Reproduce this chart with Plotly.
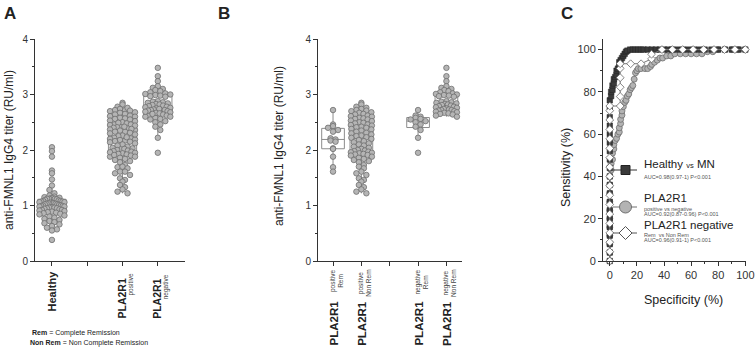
import plotly.graph_objects as go

W, H = 755, 350

# ---------------- data ----------------
healthy = [2.05, 1.98, 1.88, 1.63, 1.58, 1.47, 1.36, 1.28, 1.22, 1.18,
           1.16, 1.15, 1.14, 1.13, 1.13, 1.12, 1.12, 1.12, 1.11, 1.10,
           1.09, 1.08, 1.08, 1.07, 1.07, 1.06, 1.06, 1.05, 1.05, 1.04,
           1.04, 1.03, 1.03, 1.02, 1.02, 1.01, 1.00, 1.00, 0.99, 0.99,
           0.98, 0.98, 0.97, 0.96, 0.96, 0.95, 0.95, 0.94, 0.93, 0.92,
           0.92, 0.91, 0.90, 0.89, 0.88, 0.87, 0.86, 0.85, 0.84, 0.82,
           0.80, 0.78, 0.76, 0.74, 0.72, 0.70, 0.68, 0.66, 0.63, 0.60,
           0.57, 0.55, 0.38]

pos_rem = [2.72, 2.46, 2.43, 2.40, 2.36, 2.33, 2.21, 2.19, 2.17, 2.15,
           2.03, 2.02, 1.88, 1.69, 1.61]

pos_nonrem = [2.85, 2.82, 2.78, 2.76, 2.74, 2.72, 2.71, 2.70, 2.68, 2.67,
              2.65, 2.64, 2.62, 2.61, 2.60, 2.58, 2.57, 2.56, 2.55, 2.53,
              2.52, 2.50, 2.49, 2.48, 2.46, 2.45, 2.44, 2.42, 2.41, 2.40,
              2.38, 2.37, 2.35, 2.33, 2.31, 2.30, 2.28, 2.26, 2.25, 2.23,
              2.22, 2.20, 2.18, 2.16, 2.14, 2.12, 2.10, 2.08, 2.06, 2.04,
              2.02, 2.00, 1.99, 1.98, 1.97, 1.96, 1.95, 1.94, 1.93, 1.92,
              1.91, 1.90, 1.88, 1.86, 1.84, 1.82, 1.80, 1.78, 1.73, 1.70,
              1.67, 1.61, 1.58, 1.55, 1.49, 1.46, 1.43, 1.37, 1.33, 1.29,
              1.25, 1.22]

neg_rem = [2.72, 2.62, 2.60, 2.58, 2.56, 2.55, 2.52, 2.50, 2.46, 2.42,
           2.36, 2.22, 1.95]

neg_nonrem = [3.48, 3.33, 3.24, 3.15, 3.12, 3.10, 3.08, 3.06, 3.04, 3.02,
              3.01, 3.00, 2.99, 2.98, 2.97, 2.96, 2.88, 2.87, 2.86, 2.85,
              2.84, 2.83, 2.82, 2.81, 2.80, 2.79, 2.78, 2.77, 2.76, 2.75,
              2.74, 2.73, 2.72, 2.72, 2.71, 2.70, 2.69, 2.68, 2.67, 2.66,
              2.65, 2.64, 2.62, 2.60]

pla2r1_pos = pos_rem + pos_nonrem
pla2r1_neg = neg_rem + neg_nonrem

a_positions = [1, 3, 4]
a_groups = [healthy, pla2r1_pos, pla2r1_neg]
b_positions = [1, 2, 4, 5]
b_groups = [pos_rem, pos_nonrem, neg_rem, neg_nonrem]

# ROC curves (x = specificity axis, y = sensitivity), in %
roc_hm_x = [0, 0, 0, 0, 0, 0, 0, 0, 0, 0, 0, 0, 0, 0, 0, 0, 0, 0, 0, 0,
            1, 1, 2, 2, 3, 3, 4, 5, 5, 6, 7, 7, 8, 9, 10, 11, 12, 13,
            15, 17, 19, 21, 23, 25, 28, 31, 34, 37, 40, 43, 46, 50, 54,
            58, 62, 66, 70, 75, 80, 85, 90, 95, 100]
roc_hm_y = [0, 4, 8, 12, 16, 20, 24, 28, 32, 36, 40, 44, 48, 52, 56, 60, 64, 68, 72, 76,
            78, 80, 81, 83, 84, 86, 87, 88, 90, 91, 92, 94, 95, 96, 97, 98, 99, 99.5,
            100, 100, 100, 100, 100, 100, 100, 100, 100, 100, 100, 100, 100, 100, 100,
            100, 100, 100, 100, 100, 100, 100, 100, 100, 100]

roc_pn_x = [0, 0, 0, 0, 0, 0, 0, 0, 0, 0, 0, 1, 1, 2, 2, 3, 3, 4, 5, 6,
            7, 7, 8, 8, 9, 9, 10, 11, 12, 13, 14, 15, 16, 17, 18, 19, 20, 21,
            23, 26, 28, 30, 31, 33, 35, 37, 39, 42, 45, 48, 52, 56, 60, 64,
            68, 72, 76, 80, 85, 90, 95, 100]
roc_pn_y = [0, 4, 8, 12, 16, 20, 24, 28, 32, 36, 40, 43, 46, 48, 51, 53, 55, 57, 58, 60,
            61, 63, 65, 67, 69, 71, 73, 75, 76, 78, 79, 81, 82, 83, 86, 89, 90, 91,
            91, 91, 91, 92, 93, 94, 95, 96, 96, 97, 97, 98, 98, 98, 98, 98,
            98, 99, 99, 100, 100, 100, 100, 100]

roc_nr_x = [0, 0, 0, 0, 0, 0, 0, 0, 0, 0, 0, 0, 0, 0, 0, 0, 0, 0,
            7.7, 7.7, 7.7, 7.7, 7.7, 7.7, 15.4, 23.1, 30.8, 30.8,
            38.5, 46.2, 53.8, 61.5, 69.2, 76.9, 84.6, 92.3, 100]
roc_nr_y = [0, 4.4, 8.9, 13.3, 17.8, 22.2, 26.7, 31.1, 35.6, 40, 44.4, 48.9, 53.3,
            57.8, 62.2, 66.7, 71.1, 73.3,
            73.3, 77.8, 82.2, 86.7, 91.1, 93.3, 93.3, 93.3, 95.6, 97.8,
            100, 100, 100, 100, 100, 100, 100, 100, 100]

# ---------------- geometry (pixels) ----------------
Y_BOT, Y_TOP = 261, 39
A_L, A_R, A_RANGE = 35, 185, [0.52, 4.77]
B_L, B_R, B_RANGE = 318, 462, [0.47, 5.55]
C_L, C_R, C_RANGE = 603, 746, [-5, 100.5]


def px(x):
    return x / W


def py(y):
    return 1 - y / H


FONT = "Liberation Sans, Arial, sans-serif"
DOT_FILL = "#b5b5b5"
DOT_LINE = "#6e6e6e"
BOX_LINE = "#8c8c8c"


def swarm(vals, ppy, ppx, binh=4.5, step=5.0, half=12.0):
    """Deterministic beeswarm offsets (chevron rows, highest in centre)."""
    bins = {}
    for i, v in enumerate(vals):
        bins.setdefault(int(v * ppy // binh), []).append(i)
    off = [0.0] * len(vals)
    for idx in bins.values():
        n = len(idx)
        if n == 1:
            continue
        s = min(step, 2 * half / (n - 1))
        slots = [(j - (n - 1) / 2) * s for j in range(n)]
        slots.sort(key=lambda t: (abs(t), t))
        idx_sorted = sorted(idx, key=lambda i: -vals[i])
        for k, i in enumerate(idx_sorted):
            off[i] = slots[k] / ppx
    return off


fig = go.Figure()

ppy = (Y_BOT - Y_TOP) / 4.0


def add_panel(positions, groups, xa, ya, ppx, half):
    for p, g in zip(positions, groups):
        fig.add_trace(go.Box(
            x=[p] * len(g), y=g, xaxis=xa, yaxis=ya, width=0.8,
            boxpoints="outliers", marker=dict(opacity=0, size=1),
            fillcolor="rgba(0,0,0,0)", line=dict(color=BOX_LINE, width=1),
            whiskerwidth=0, showlegend=False, hoverinfo="skip"))
    for p, g in zip(positions, groups):
        off = swarm(g, ppy, ppx, half=half)
        fig.add_trace(go.Scatter(
            x=[p + o for o in off], y=g, xaxis=xa, yaxis=ya, mode="markers",
            marker=dict(size=5.5, color=DOT_FILL, line=dict(color=DOT_LINE, width=0.8)),
            showlegend=False, hoverinfo="skip", cliponaxis=False))


ppx_a = (A_R - A_L) / (A_RANGE[1] - A_RANGE[0])
ppx_b = (B_R - B_L) / (B_RANGE[1] - B_RANGE[0])
add_panel(a_positions, a_groups, "x", "y", ppx_a, 12.5)
add_panel(b_positions, b_groups, "x2", "y2", ppx_b, 10.5)

# ROC curves
fig.add_trace(go.Scatter(x=roc_pn_x, y=roc_pn_y, xaxis="x3", yaxis="y3",
                         mode="lines+markers", line=dict(color="#6e6e6e", width=1),
                         marker=dict(symbol="circle", size=6, color="#b3b3b3",
                                     line=dict(color="#6e6e6e", width=0.8)),
                         showlegend=False, hoverinfo="skip", cliponaxis=False))
fig.add_trace(go.Scatter(x=roc_hm_x, y=roc_hm_y, xaxis="x3", yaxis="y3",
                         mode="lines+markers", line=dict(color="#333333", width=1),
                         marker=dict(symbol="square", size=5.5, color="#3a3a3a",
                                     line=dict(color="#222222", width=0.5)),
                         showlegend=False, hoverinfo="skip", cliponaxis=False))
fig.add_trace(go.Scatter(x=roc_nr_x, y=roc_nr_y, xaxis="x3", yaxis="y3",
                         mode="lines+markers", line=dict(color="#777777", width=1),
                         marker=dict(symbol="diamond", size=6, color="white",
                                     line=dict(color="#666666", width=0.8)),
                         showlegend=False, hoverinfo="skip", cliponaxis=False))

# legend glyphs in panel C (overlay pixel axis)
leg = [(170, "square", 9, "#3a3a3a", "#222222", "#333333"),
       (207, "circle", 12, "#b3b3b3", "#6e6e6e", "#6e6e6e"),
       (233, "diamond", 10, "white", "#555555", "#555555")]
for yy, sym, sz, fc, lc, linec in leg:
    fig.add_trace(go.Scatter(x=[613, 637], y=[yy, yy], xaxis="x4", yaxis="y4",
                             mode="lines", line=dict(color=linec, width=1),
                             showlegend=False, hoverinfo="skip"))
    fig.add_trace(go.Scatter(x=[625.5], y=[yy], xaxis="x4", yaxis="y4", mode="markers",
                             marker=dict(symbol=sym, size=sz, color=fc, line=dict(color=lc, width=1)),
                             showlegend=False, hoverinfo="skip"))

axis_common = dict(showline=True, linecolor="#333333", linewidth=1, ticks="outside",
                   ticklen=4, tickwidth=1, tickcolor="#333333", showgrid=False,
                   zeroline=False, fixedrange=True, ticklabeloverflow="allow",
                   automargin=False,
                   tickfont=dict(family=FONT, size=10, color="#333333"))
c_font = dict(family=FONT, size=11, color="#333333")

ydom = [py(Y_BOT), py(Y_TOP)]
fig.update_layout(
    width=W, height=H, autosize=False,
    margin=dict(l=0, r=0, t=0, b=0, pad=0, autoexpand=False),
    paper_bgcolor="white", plot_bgcolor="rgba(0,0,0,0)", boxmode="overlay",
    showlegend=False,
    font=dict(family=FONT, color="#222222"),
    xaxis=dict(domain=[px(A_L), px(A_R)], range=A_RANGE, anchor="y",
               tickvals=[1, 2, 3, 4], ticktext=["", "", "", ""], **axis_common),
    yaxis=dict(domain=ydom, range=[0, 4], anchor="x", tickvals=[0, 1, 2, 3, 4],
               minor=dict(ticks="outside", ticklen=2, dtick=0.5, tickcolor="#333333"),
               **axis_common),
    xaxis2=dict(domain=[px(B_L), px(B_R)], range=B_RANGE, anchor="y2",
                tickvals=[1, 2, 3, 4, 5], ticktext=["", "", "", "", ""], **axis_common),
    yaxis2=dict(domain=ydom, range=[0, 4], anchor="x2", tickvals=[0, 1, 2, 3, 4],
                minor=dict(ticks="outside", ticklen=2, dtick=0.5, tickcolor="#333333"),
                **axis_common),
    xaxis3=dict(domain=[px(C_L), px(C_R)], range=C_RANGE, anchor="y3",
                tickvals=[0, 20, 40, 60, 80, 100],
                minor=dict(ticks="outside", ticklen=2, dtick=10, tick0=0, tickcolor="#333333"),
                **{**axis_common, "tickfont": c_font}),
    yaxis3=dict(domain=ydom, range=[0, 105], anchor="x3",
                tickvals=[0, 20, 40, 60, 80, 100],
                minor=dict(ticks="outside", ticklen=2, dtick=10, tick0=0, tickcolor="#333333"),
                **{**axis_common, "tickfont": c_font}),
    xaxis4=dict(domain=[0, 1], range=[0, W], visible=False, fixedrange=True, anchor="y4"),
    yaxis4=dict(domain=[0, 1], range=[H, 0], visible=False, fixedrange=True, anchor="x4"),
)

ann = []


def text(x, y, s, size, xanchor="center", yanchor="middle", angle=0, color="#222222",
         xref="paper", align="center"):
    ann.append(dict(x=x, y=y, xref=xref, yref="paper", text=s, showarrow=False,
                    font=dict(family=FONT, size=size, color=color), xanchor=xanchor,
                    yanchor=yanchor, textangle=angle, align=align))


# panel letters
text(px(10), py(13), "<b>A</b>", 17)
text(px(224), py(13), "<b>B</b>", 17)
text(px(567), py(13), "<b>C</b>", 17)

# axis titles
text(px(9), py(150), "anti-FMNL1 IgG4 titer (RU/ml)", 12, angle=-90)
text(px(279), py(146), "anti-FMNL1 IgG4 titer (RU/ml)", 12, angle=-90)
text(px(566), py(168), "Sensitivity (%)", 12.5, angle=-90)
text(px(683), py(300), "Specificity (%)", 12.5)

# panel A category labels
text(a_positions[0], py(268), "<b>Healthy</b>", 11, yanchor="top", angle=-90, xref="x")
text(a_positions[1] - 1 / ppx_a, py(277), "<b>PLA2R1</b>", 10.5, yanchor="top", angle=-90, xref="x")
text(a_positions[1] + 8 / ppx_a, py(272), "positive", 6.5, yanchor="top", angle=-90, xref="x",
     color="#444444")
text(a_positions[2] - 1 / ppx_a, py(277), "<b>PLA2R1</b>", 10.5, yanchor="top", angle=-90, xref="x")
text(a_positions[2] + 8 / ppx_a, py(272), "negative", 6.5, yanchor="top", angle=-90, xref="x",
     color="#444444")

# panel B category labels
b_small = ["positive<br>Rem", "positive<br>Non Rem", "negative<br>Rem", "negative<br>Non Rem"]
for p, s in zip(b_positions, b_small):
    text(p, py(299), "<b>PLA2R1</b>", 11.5, yanchor="top", angle=-90, xref="x2")
    text(p + 3 / ppx_b, py(268), s, 6.5, yanchor="top", angle=-90, xref="x2",
         color="#444444")

# footnote
text(px(30), py(333), "<b>Rem</b> = Complete Remission", 7, xanchor="left")
text(px(28), py(343), "<b>Non Rem</b> = Non Complete Remission", 7, xanchor="left")

# legend texts in panel C
text(px(642), py(164), "Healthy <span style='font-size:7.5px'>vs</span> MN", 11.5, xanchor="left")
text(px(642), py(177), "AUC=0.98(0.97-1) P&lt;0.001", 5.5, xanchor="left", color="#555555")
text(px(642), py(198), "PLA2R1", 11.5, xanchor="left")
text(px(642), py(209), "positive vs negative", 5.5, xanchor="left", color="#555555")
text(px(642), py(214), "AUC=0.92(0.87-0.96) P&lt;0.001", 5.5, xanchor="left", color="#555555")
text(px(642), py(225), "PLA2R1 negative", 11.5, xanchor="left")
text(px(642), py(235), "Rem  vs Non Rem", 5.5, xanchor="left", color="#555555")
text(px(642), py(240), "AUC=0.96(0.91-1) P&lt;0.001", 5.5, xanchor="left", color="#555555")

fig.update_layout(annotations=ann)

fig.write_html("out.html", config={"displayModeBar": False},
               post_script="document.body.style.margin='0';")
